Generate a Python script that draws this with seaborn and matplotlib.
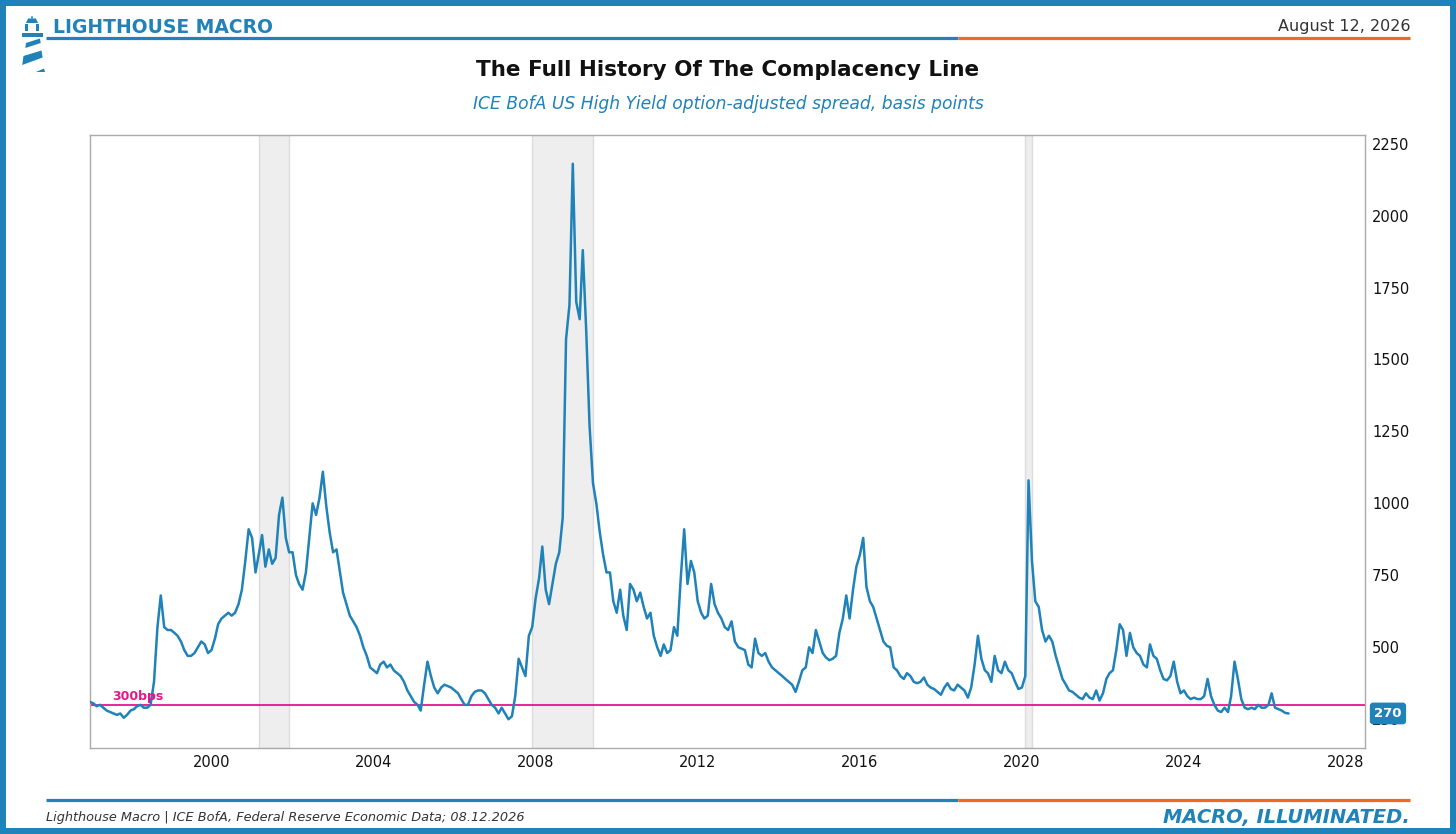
import numpy as np
import pandas as pd
import matplotlib
matplotlib.use("Agg")
import matplotlib.pyplot as plt
import matplotlib.dates as mdates
import matplotlib.transforms as mtransforms
from matplotlib.patches import Polygon, Rectangle
import seaborn as sns

BLUE = "#1f82b8"
ORANGE = "#f26a21"
PINK = "#e3168c"

# monthly HY OAS (bps), Jan 1997 .. Aug 2026
START = "1997-01-01"
hy_oas_bps = [
    # 1997
    310, 305, 295, 300, 290, 280, 275, 270, 265, 270, 255, 265,
    # 1998
    280, 285, 295, 300, 290, 290, 300, 380, 570, 680, 570, 560,
    # 1999
    560, 550, 540, 520, 490, 470, 470, 480, 500, 520, 510, 480,
    # 2000
    490, 530, 580, 600, 610, 620, 610, 620, 650, 700, 800, 910,
    # 2001
    880, 760, 820, 890, 780, 840, 790, 810, 960, 1020, 880, 830,
    # 2002
    830, 750, 720, 700, 760, 880, 1000, 960, 1020, 1110, 990, 900,
    # 2003
    830, 840, 770, 690, 650, 610, 590, 570, 540, 500, 470, 430,
    # 2004
    420, 410, 440, 450, 430, 440, 420, 410, 400, 380, 350, 330,
    # 2005
    310, 300, 280, 370, 450, 400, 360, 340, 360, 370, 365, 360,
    # 2006
    350, 340, 320, 300, 300, 330, 345, 350, 350, 340, 320, 300,
    # 2007
    290, 270, 290, 270, 250, 260, 330, 460, 430, 400, 540, 570,
    # 2008
    670, 740, 850, 700, 650, 720, 790, 830, 950, 1570, 1690, 2180,
    # 2009
    1700, 1640, 1880, 1600, 1270, 1070, 1000, 900, 820, 760, 760, 660,
    # 2010
    620, 700, 610, 560, 720, 700, 660, 690, 640, 600, 620, 540,
    # 2011
    500, 470, 510, 480, 490, 570, 540, 740, 910, 720, 800, 760,
    # 2012
    660, 620, 600, 610, 720, 650, 620, 600, 570, 560, 590, 520,
    # 2013
    500, 495, 490, 440, 430, 530, 480, 470, 480, 450, 430, 420,
    # 2014
    410, 400, 390, 380, 370, 345, 380, 420, 430, 500, 480, 560,
    # 2015
    520, 480, 465, 455, 460, 470, 550, 600, 680, 600, 700, 780,
    # 2016
    820, 880, 710, 660, 640, 600, 560, 520, 505, 500, 430, 420,
    # 2017
    400, 390, 410, 400, 380, 375, 380, 395, 370, 360, 355, 345,
    # 2018
    335, 360, 375, 355, 350, 370, 360, 350, 325, 360, 440, 540,
    # 2019
    460, 420, 410, 380, 470, 420, 410, 450, 420, 410, 380, 355,
    # 2020
    360, 400, 1080, 800, 660, 640, 560, 520, 540, 520, 470, 430,
    # 2021
    390, 370, 350, 345, 335, 325, 320, 340, 325, 320, 350, 315,
    # 2022
    340, 390, 410, 420, 490, 580, 560, 470, 550, 500, 480, 470,
    # 2023
    440, 430, 510, 470, 460, 420, 390, 385, 400, 450, 380, 340,
    # 2024
    350, 330, 320, 325, 320, 320, 330, 390, 330, 300, 280, 275,
    # 2025
    290, 275, 330, 450, 390, 320, 290, 285, 290, 285, 300, 290,
    # 2026
    290, 300, 340, 290, 285, 280, 272, 270,
]

recession_starts = ["2001-03-01", "2007-12-01", "2020-02-01"]
recession_ends = ["2001-11-30", "2009-06-01", "2020-03-31"]

COMPLACENCY = 300
last_value = 270
ytick_values = [250, 500, 750, 1000, 1250, 1500, 1750, 2000, 2250]

TITLE = "The Full History Of The Complacency Line"
SUBTITLE = "ICE BofA US High Yield option-adjusted spread, basis points"
SOURCE = "Lighthouse Macro | ICE BofA, Federal Reserve Economic Data; 08.12.2026"
DATE_STR = "August 12, 2026"

W, H = 1456, 834


def main():
    sns.set_style("white")
    plt.rcParams['font.family'] = ['DejaVu Sans']

    dates = pd.date_range(START, periods=len(hy_oas_bps), freq="MS")
    df = pd.DataFrame({'date': dates, 'bps': hy_oas_bps})

    fig = plt.figure(figsize=(W / 100, H / 100), dpi=100)
    fig.patch.set_facecolor("white")

    # main axes, placed by pixel box
    ax_l, ax_r, ax_t, ax_b = 90, 1365, 135, 748
    ax = fig.add_axes([ax_l / W, 1 - ax_b / H, (ax_r - ax_l) / W, (ax_b - ax_t) / H])

    for s, e in zip(recession_starts, recession_ends):
        ax.axvspan(pd.Timestamp(s), pd.Timestamp(e), facecolor="#eeeeee",
                   edgecolor="#dcdcdc", lw=1, zorder=0)

    ax.axhline(COMPLACENCY, color=PINK, lw=1.3, zorder=2)
    sns.lineplot(data=df, x='date', y='bps', color=BLUE, lw=1.8, ax=ax, zorder=3)

    ax.text(pd.Timestamp("1997-07-20"), COMPLACENCY + 8, "300bps", color=PINK,
            fontsize=9, fontweight="bold", ha="left", va="bottom", zorder=4)

    ax.set_xlim(dates[0], pd.Timestamp("2028-06-20"))
    ax.set_ylim(150, 2280)
    ax.set_yticks(ytick_values)
    ax.yaxis.tick_right()
    ax.xaxis.set_major_locator(mdates.YearLocator(4))
    ax.xaxis.set_major_formatter(mdates.DateFormatter("%Y"))
    ax.tick_params(axis='both', length=0, labelsize=10.5, colors="#111111", pad=5)
    ax.set_xlabel("")
    ax.set_ylabel("")
    for sp in ax.spines.values():
        sp.set_color("#aaaaaa")
        sp.set_linewidth(1)

    # last value tag on the right axis (sits over the 250 label, as in the original)
    trans = mtransforms.blended_transform_factory(ax.transAxes, ax.transData)
    ax.text(1.018, last_value, f"{last_value}", transform=trans, ha="center", va="center",
            color="white", fontsize=9.5, fontweight="bold", zorder=10, clip_on=False,
            bbox=dict(boxstyle="round,pad=0.28,rounding_size=0.2", fc=BLUE, ec=BLUE))

    # overlay in pixel coords for frame, header and footer
    ov = fig.add_axes([0, 0, 1, 1], zorder=-1)
    ov.set_xlim(0, W)
    ov.set_ylim(H, 0)
    ov.axis("off")

    b = 6
    for r in [(0, 0, W, b), (0, H - b, W, b), (0, 0, b, H), (W - b, 0, b, H)]:
        ov.add_patch(Rectangle(r[:2], r[2], r[3], color=BLUE, lw=0))

    # header / footer rules
    for y in (38, 800):
        ov.plot([46, 958], [y, y], color=BLUE, lw=2.3, solid_capstyle="butt")
        ov.plot([958, 1410], [y, y], color=ORANGE, lw=2.3, solid_capstyle="butt")

    # lighthouse logo
    logo = [
        [(26, 23), (38, 23), (36, 18.5), (28, 18.5)],
        [(31, 18.5), (33, 18.5), (32.5, 16), (31.5, 16)],
        [(25, 24), (28, 24), (28, 31), (25, 31)],
        [(36, 24), (39, 24), (39, 31), (36, 31)],
        [(22, 33), (43, 33), (43, 36.5), (22, 36.5)],
        [(26, 43), (40, 38.5), (40.7, 43), (25.3, 48)],
        [(23.5, 56), (41.5, 50.5), (42.6, 57.5), (22.2, 65)],
        [(36, 72), (44, 68.5), (45, 72)],
    ]
    for pts in logo:
        ov.add_patch(Polygon(pts, closed=True, color=BLUE, lw=0))

    ov.text(53, 27, "LIGHTHOUSE MACRO", color=BLUE, fontsize=13.5, fontweight="bold",
            ha="left", va="center")
    ov.text(1410, 26, DATE_STR, color="#333333", fontsize=11.5, ha="right", va="center")
    ov.text(728, 70, TITLE, color="#111111", fontsize=15.5, fontweight="bold",
            ha="center", va="center")
    ov.text(728, 104, SUBTITLE, color=BLUE, fontsize=12.3, style="italic",
            ha="center", va="center")
    ov.text(46, 818, SOURCE, color="#333333", fontsize=9.3, style="italic",
            ha="left", va="center")
    ov.text(1410, 818, "MACRO, ILLUMINATED.", color=BLUE, fontsize=14, fontweight="bold",
            style="italic", ha="right", va="center")

    fig.savefig("out.png", dpi=100)
    plt.close(fig)


if __name__ == '__main__':
    main()
